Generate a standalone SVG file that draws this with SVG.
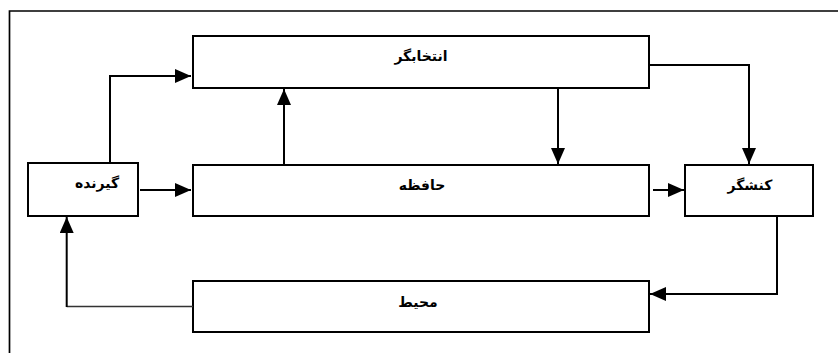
<svg xmlns="http://www.w3.org/2000/svg" width="838" height="353" viewBox="0 0 838 353">
<style>
.box{fill:#fff;stroke:#000;stroke-width:2}
.lbl{font-family:"DejaVu Sans",sans-serif;font-weight:bold;font-size:14px;fill:#000;text-anchor:middle}
.c{fill:none;stroke:#000;stroke-width:2}
.thin{fill:none;stroke:#333;stroke-width:1.5}
</style>
<defs>
<marker id="ah" markerUnits="userSpaceOnUse" markerWidth="16" markerHeight="14" viewBox="0 0 16 14" refX="16" refY="7" orient="auto">
<path d="M0,0 L16,7 L0,14 Z" fill="#000"/>
</marker>
</defs>
<rect width="838" height="353" fill="#fff"/>
<path d="M9.5,353 V11 H838" fill="none" stroke="#000" stroke-width="1.7"/>
<g id="selector"><rect class="box" x="193" y="36" width="456" height="52"/><text class="lbl" x="421" y="61" direction="rtl">انتخابگر</text></g>
<g id="receiver"><rect class="box" x="28" y="163" width="110" height="53"/><text class="lbl" x="97" y="188" direction="rtl">گیرنده</text></g>
<g id="memory"><rect class="box" x="193" y="165" width="456" height="51"/><text class="lbl" x="422" y="190" direction="rtl">حافظه</text></g>
<g id="actor"><rect class="box" x="685" y="165" width="128" height="51"/><text class="lbl" x="750" y="190" direction="rtl">کنشگر</text></g>
<g id="environment"><rect class="box" x="193" y="281" width="456" height="51"/><text class="lbl" x="418" y="307" direction="rtl">محیط</text></g>
<g id="connectors">
<path class="c" d="M110,163 V76 H191" marker-end="url(#ah)"/>
<path class="c" d="M284,165 V89" marker-end="url(#ah)"/>
<path class="c" d="M558,88 V164" marker-end="url(#ah)"/>
<path class="c" d="M649,65 H749 V164" marker-end="url(#ah)"/>
<path class="c" d="M140,190 H191" marker-end="url(#ah)"/>
<path class="c" d="M653,190 H684" marker-end="url(#ah)"/>
<path class="c" d="M777,216 V294 H650" marker-end="url(#ah)"/>
<path class="thin" d="M193,306.5 H66.7"/>
<path class="c" d="M66.7,307 V217" marker-end="url(#ah)"/>
</g>
</svg>
